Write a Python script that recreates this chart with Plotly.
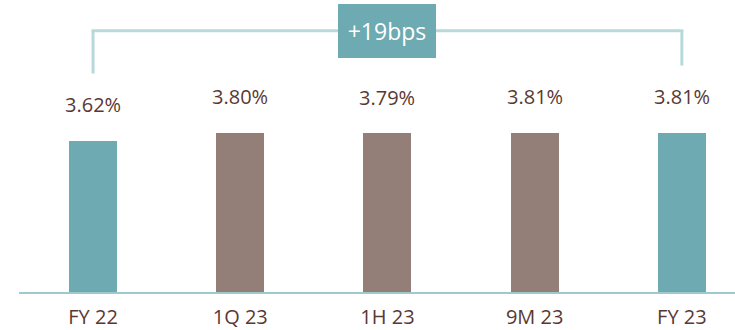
import plotly.graph_objects as go

categories = ["FY 22", "1Q 23", "1H 23", "9M 23", "FY 23"]
values = [3.62, 3.80, 3.79, 3.81, 3.81]
value_labels = ["3.62%", "3.80%", "3.79%", "3.81%", "3.81%"]
bar_colors = ["#6daab1", "#947f78", "#947f78", "#947f78", "#6daab1"]
change_label = "+19bps"

TEXT = "#5a3832"
FONT = "Open Sans"
TEAL = "#6daab1"
BRACKET = "#b7d9dc"

x = list(range(len(categories)))
fig = go.Figure()
fig.add_trace(go.Bar(
    x=x, y=values, marker=dict(color=bar_colors, line=dict(width=0)),
    width=0.326, hoverinfo="skip",
))

# value labels above bars
for xi, v, lab in zip(x, values, value_labels):
    fig.add_annotation(x=xi, y=v, text=lab, showarrow=False, yanchor="middle",
                       yshift=36, font=dict(family=FONT, size=20, color=TEXT))

# bracket from first to last bar
bracket_off = 1.6
level = max(values) + 2.43
fig.add_shape(type="line", x0=x[0], x1=x[0], y0=values[0] + bracket_off, y1=level,
              line=dict(color=BRACKET, width=3), layer="below")
fig.add_shape(type="line", x0=x[-1], x1=x[-1], y0=values[-1] + bracket_off, y1=level,
              line=dict(color=BRACKET, width=3), layer="below")
fig.add_shape(type="line", x0=x[0] - 0.01, x1=x[-1] + 0.01, y0=level, y1=level,
              line=dict(color=BRACKET, width=3), layer="below")

fig.add_annotation(x=x[2], y=level, text=change_label, showarrow=False,
                   xanchor="center", yanchor="middle", width=98, height=54,
                   bgcolor=TEAL, borderpad=0, borderwidth=0,
                   font=dict(family=FONT, size=23, color="white"))

fig.update_layout(
    width=735, height=330, margin=dict(l=19, r=0, t=0, b=38, autoexpand=False),
    paper_bgcolor="white", plot_bgcolor="white", showlegend=False,
    bargap=0,
)
fig.update_xaxes(
    tickmode="array", tickvals=x, ticktext=categories,
    range=[-0.503, 4.361], showgrid=False, zeroline=False,
    showline=True, linecolor="#9ecacd", linewidth=2,
    ticks="", ticklabelstandoff=6, automargin=False,
    tickfont=dict(family=FONT, size=20, color=TEXT),
)
fig.update_yaxes(range=[0, 6.977], visible=False, showgrid=False, zeroline=False,
                 automargin=False)

fig.write_html("out.html")
